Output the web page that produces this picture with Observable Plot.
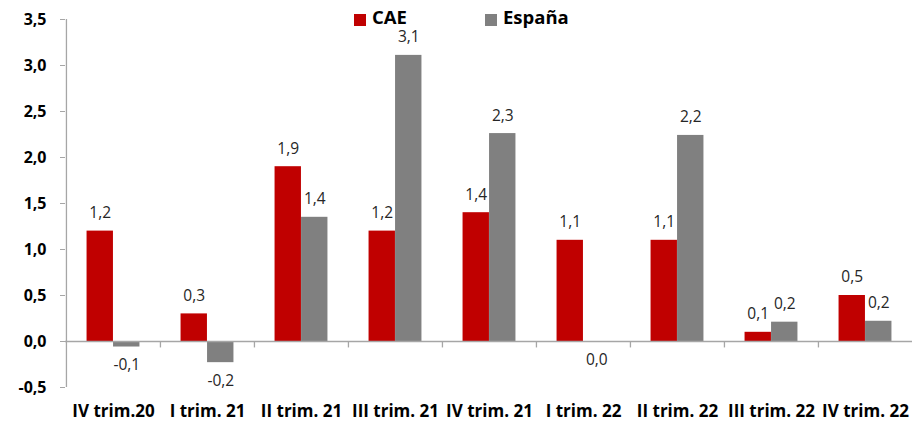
<!DOCTYPE html>
<html>
<head>
<meta charset="utf-8">
<script src="https://cdn.jsdelivr.net/npm/d3@7"></script>
<script src="https://cdn.jsdelivr.net/npm/@observablehq/plot@0.6"></script>
<style>
  html, body { margin: 0; padding: 0; background: #fff; }
  #wrap { position: relative; width: 912px; height: 425px; font-family: "Open Sans", "Noto Sans", sans-serif; }
  .legend { position: absolute; top: 7px; left: 0; font-weight: bold; font-size: 18.5px; line-height: 1; color: #000; }
  .legend span.sw { position: absolute; width: 12px; height: 12px; top: 7px; }
  .legend span.lb { position: absolute; top: 1px; white-space: nowrap; }
</style>
</head>
<body>
<div id="wrap">
  <div id="chart"></div>
  <div class="legend">
    <span class="sw" style="left:354px;background:#C00000"></span><span class="lb" style="left:372px">CAE</span>
    <span class="sw" style="left:485px;background:#808080"></span><span class="lb" style="left:503px">España</span>
  </div>
</div>
<script>
const categories = ["IV trim.20", "I trim. 21", "II trim. 21", "III trim. 21", "IV trim. 21", "I trim. 22", "II trim. 22", "III trim. 22", "IV trim. 22"];
const cae = [1.2, 0.3, 1.9, 1.2, 1.4, 1.1, 1.1, 0.1, 0.5];
const espana = [-0.06, -0.23, 1.35, 3.11, 2.26, -0.01, 2.24, 0.21, 0.22];
const yTicks = [-0.5, 0, 0.5, 1, 1.5, 2, 2.5, 3, 3.5];

const W = 912, H = 425, mL = 65, mR = 0, mT = 19, mB = 38;
const bw = (W - mL - mR) / categories.length;
const barW = bw * 0.2816;
const outer = (bw - 2 * barW) / 2;

const rows = categories.map((c, i) => ({cat: c, cae: cae[i], esp: espana[i]}));
const fmt = v => { const r = Math.round(v * 10) / 10; return (r === 0 ? 0 : r).toFixed(1).replace(".", ","); };

const RED = "#C00000", GRAY = "#808080", AX = "#A6A6A6", LBL = "#262626";
const off = (barW / 2 + outer) - bw / 2;

const labelMarks = (key, dx) => [
  Plot.text(rows, {filter: d => d[key] >= 0, x: "cat", y: key, text: d => fmt(d[key]), dx, dy: -18, fontSize: 15.5, fill: LBL}),
  Plot.text(rows, {filter: d => d[key] < 0, x: "cat", y: key, text: d => fmt(d[key]), dx, dy: 18, fontSize: 15.5, fill: LBL})
];

const chart = Plot.plot({
  width: W, height: H,
  marginLeft: mL, marginRight: mR, marginTop: mT, marginBottom: mB,
  style: {fontFamily: "'Open Sans', 'Noto Sans', sans-serif", background: "white", overflow: "visible"},
  x: {domain: categories, padding: 0, axis: null},
  y: {domain: [-0.5, 3.5], axis: null},
  marks: [
    Plot.barY(rows, {x: "cat", y: "cae", fill: RED, insetLeft: outer, insetRight: bw - outer - barW}),
    Plot.barY(rows, {x: "cat", y: "esp", fill: GRAY, insetLeft: outer + barW, insetRight: outer}),
    Plot.ruleY([0], {stroke: AX, strokeWidth: 1.3}),
    Plot.ruleX(categories.slice(1), {x: d => d, dx: -bw / 2, y1: 0, y2: -0.07, stroke: AX, strokeWidth: 1.3}),
    Plot.ruleX([categories[0]], {x: d => d, dx: -bw / 2, y1: -0.5, y2: 3.5, stroke: AX, strokeWidth: 1.3}),
    Plot.axisY({ticks: yTicks, tickFormat: fmt, tickSize: 5, tickPadding: 14, stroke: AX, fontSize: 16, fontWeight: "bold", fill: "#000", label: null}),
    Plot.axisX({tickSize: 0, tickPadding: 17, fontSize: 17, fontWeight: "bold", fill: "#000", label: null}),
    ...labelMarks("cae", off),
    ...labelMarks("esp", -off)
  ]
});
document.getElementById("chart").appendChild(chart);
</script>
</body>
</html>
